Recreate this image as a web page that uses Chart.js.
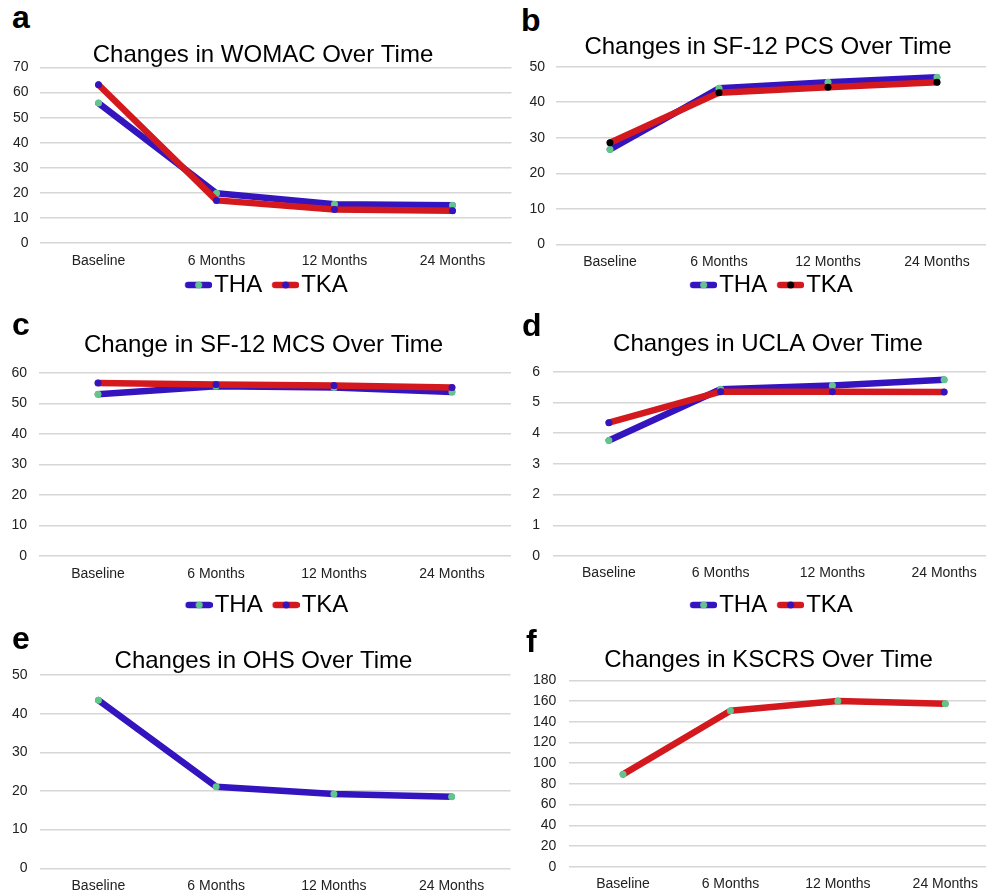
<!DOCTYPE html>
<html>
<head>
<meta charset="utf-8">
<title>Changes in outcome scores over time</title>
<script src="https://cdn.jsdelivr.net/npm/chart.js@4/dist/chart.umd.min.js"></script>
<style>
  html, body { margin: 0; padding: 0; background: #fff; overflow: hidden; }
  body { width: 986px; height: 894px; position: relative; font-family: "Liberation Sans", Arial, sans-serif; }
  canvas { position: absolute; }
  .tag { position: absolute; font-size: 32px; line-height: 32px; font-weight: bold; color: #000; }
</style>
</head>
<body>
<script>
// values
const categories = ['Baseline', '6 Months', '12 Months', '24 Months'];

const womacTHA = [55.8, 19.8, 15.5, 15.1];
const womacTKA = [63.1, 17.0, 13.4, 12.9];

const pcsTHA = [26.7, 43.9, 45.6, 47.0];
const pcsTKA = [28.6, 42.7, 44.2, 45.6];

const mcsTHA = [53.0, 55.6, 55.2, 53.7];
const mcsTKA = [56.7, 56.2, 55.8, 55.2];

const uclaTHA = [3.76, 5.43, 5.55, 5.74];
const uclaTKA = [4.34, 5.35, 5.35, 5.34];

const ohsTHA   = [43.5, 21.1, 19.2, 18.5];
const kscrsTKA = [89.2, 150.6, 160.0, 157.4];

const FONT  = '"Liberation Sans", Arial, Helvetica, sans-serif';
const BLUE  = '#3414be';
const RED   = '#d3191e';
const GREEN = '#62c58c';
const BLACK = '#000000';
const LINE_W = 6.5;

// little "line with a dot" icon for the legend
function legendMark(line, dot) {
    const c = document.createElement('canvas');
    c.width = 44; c.height = 10;
    const g = c.getContext('2d');
    g.strokeStyle = line; g.lineWidth = LINE_W; g.lineCap = 'round';
    g.beginPath(); g.moveTo(20, 5); g.lineTo(41, 5); g.stroke();
    g.fillStyle = dot;
    g.beginPath(); g.arc(30.5, 5, 3.5, 0, Math.PI * 2); g.fill();
    return c;
}

function series(label, data, line, dot, order) {
    return { label, data, line, dot, order };
}

// page geometry per panel: canvas left/top/height, label edge (A), plot left/right (cl/cr), title centre (tx)
const panels = [
    { tag: 'a', tagAt: [12, 1],   title: 'Changes in WOMAC Over Time', max: 70, step: 10,
      series: [series('THA', womacTHA, BLUE, GREEN, 1), series('TKA', womacTKA, RED, BLUE, 0)],
      L: 0, T: 0, H: 307, A: 10, cl: 39.5, cr: 511.5, tx: 263,
      tTop: 43.5, tBot: 0, yPad: 11, xh: 27, xPad: 10, legend: true },
    { tag: 'b', tagAt: [521, 3.6], title: 'Changes in SF-12 PCS Over Time', max: 50, step: 10,
      series: [series('THA', pcsTHA, BLUE, GREEN, 1), series('TKA', pcsTKA, RED, BLACK, 0)],
      L: 500, T: 0, H: 307, A: 527, cl: 555.5, cr: 991.5, tx: 768,
      tTop: 35.7, tBot: 7, yPad: 10.5, xh: 25.7, xPad: 9, legend: true },
    { tag: 'c', tagAt: [12, 308],  title: 'Change in SF-12 MCS Over Time', max: 60, step: 10,
      series: [series('THA', mcsTHA, BLUE, GREEN, 1), series('TKA', mcsTKA, RED, BLUE, 0)],
      L: 0, T: 300, H: 327, A: 10.5, cl: 39, cr: 511, tx: 263.5,
      tTop: 33.5, tBot: 15.3, yPad: 12, xh: 34, xPad: 9.6, legend: true },
    { tag: 'd', tagAt: [522, 309], title: 'Changes in UCLA Over Time', max: 6, step: 1,
      series: [series('THA', uclaTHA, BLUE, GREEN, 1), series('TKA', uclaTKA, RED, BLUE, 0)],
      L: 500, T: 300, H: 327, A: 532, cl: 553, cr: 1001, tx: 768,
      tTop: 32, tBot: 15.7, yPad: 13, xh: 34, xPad: 8.9, legend: true },
    { tag: 'e', tagAt: [12, 622],  title: 'Changes in OHS Over Time', max: 50, step: 10,
      series: [series('THA', ohsTHA, BLUE, GREEN, 0)],
      L: 0, T: 620, H: 274, A: 10, cl: 39.5, cr: 510.5, tx: 263.5,
      tTop: 29.5, tBot: 1.5, yPad: 12, xh: 25.7, xPad: 9, legend: false },
    { tag: 'f', tagAt: [526, 624.6], title: 'Changes in KSCRS Over Time', max: 180, step: 20,
      series: [series('TKA', kscrsTKA, RED, GREEN, 0)],
      L: 500, T: 620, H: 274, A: 532, cl: 569.3, cr: 999, tx: 768.5,
      tTop: 28.5, tBot: 7.8, yPad: 13, xh: 27.3, xPad: 9.2, legend: false },
];

panels.forEach(p => {
    const tag = document.createElement('div');
    tag.className = 'tag';
    tag.textContent = p.tag;
    tag.style.left = p.tagAt[0] + 'px';
    tag.style.top  = p.tagAt[1] + 'px';
    document.body.appendChild(tag);

    // title box runs from A to R, so its centre lands on tx; a blank right axis pulls the plot back to cr
    const R    = 2 * p.tx - p.A;
    const W    = Math.ceil(R - p.L);
    const padL = p.A - p.L;
    const padR = p.L + W - R;
    const yw   = p.cl - p.A;
    const w2   = R - p.cr;

    const canvas = document.createElement('canvas');
    canvas.width = W; canvas.height = p.H;
    canvas.style.left = p.L + 'px';
    canvas.style.top  = p.T + 'px';
    canvas.style.width = W + 'px';
    canvas.style.height = p.H + 'px';
    document.body.appendChild(canvas);

    const marks = p.series.map(s => legendMark(s.line, s.dot));

    new Chart(canvas, {
        type: 'line',
        data: {
            labels: categories,
            datasets: p.series.map(s => ({
                label: s.label,
                data: s.data,
                order: s.order,
                borderColor: s.line,
                borderWidth: LINE_W,
                borderCapStyle: 'round',
                borderJoinStyle: 'round',
                tension: 0,
                fill: false,
                pointRadius: 3.5,
                pointBorderWidth: 0,
                pointBackgroundColor: s.dot,
            })),
        },
        options: {
            responsive: false,
            animation: false,
            events: [],
            layout: { padding: { left: padL, right: padR, top: 0, bottom: 0 } },
            plugins: {
                tooltip: { enabled: false },
                title: {
                    display: true,
                    text: p.title,
                    color: '#000',
                    font: { family: FONT, size: 24, weight: 'normal', lineHeight: 1 },
                    padding: { top: p.tTop, bottom: p.tBot },
                },
                legend: {
                    display: p.legend,
                    position: 'bottom',
                    labels: {
                        usePointStyle: true,
                        pointStyleWidth: 24,
                        padding: 3,
                        color: '#000',
                        font: { family: FONT, size: 24 },
                        generateLabels: chart => chart.data.datasets.map((ds, i) => ({
                            text: ds.label,
                            pointStyle: marks[i],
                            fontColor: '#000',
                            hidden: false,
                            lineWidth: 0,
                            datasetIndex: i,
                        })),
                    },
                },
            },
            scales: {
                x: {
                    offset: true,
                    grid: { display: false, drawTicks: false },
                    border: { display: false },
                    ticks: { color: '#222', padding: p.xPad, maxRotation: 0, autoSkip: false,
                             font: { family: FONT, size: 14, lineHeight: 1.2 } },
                    afterFit: s => { s.height = p.xh; },
                },
                y: {
                    min: 0,
                    max: p.max,
                    grid: { color: '#d6d6d6', lineWidth: 1.5, drawTicks: false },
                    border: { display: false },
                    ticks: { stepSize: p.step, color: '#222', padding: p.yPad,
                             font: { family: FONT, size: 14, lineHeight: 1.2 } },
                    afterFit: s => { s.width = yw; },
                },
                spacer: {
                    type: 'linear',
                    position: 'right',
                    grid: { display: false, drawTicks: false },
                    border: { display: false },
                    ticks: { display: false },
                    afterFit: s => { s.width = w2; },
                },
            },
        },
    });
});
</script>
</body>
</html>
